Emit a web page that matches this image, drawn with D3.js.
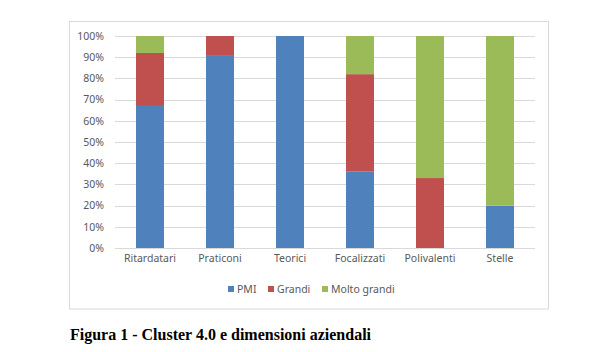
<!DOCTYPE html>
<html><head><meta charset="utf-8">
<script src="https://cdn.jsdelivr.net/npm/d3@7"></script>
<style>body{margin:0;background:#fff}svg{display:block}</style>
</head><body>
<script>
const categories = ["Ritardatari","Praticoni","Teorici","Focalizzati","Polivalenti","Stelle"];
const seriesNames = ["PMI","Grandi","Molto grandi"];
const pmi = [67, 91, 100, 36, 0, 20];
const grandi = [25, 9, 0, 46, 33, 0];
const moltoGrandi = [8, 0, 0, 18, 67, 80];
const yTicks = [0,10,20,30,40,50,60,70,80,90,100];
const colors = ["#4f81bd","#c0504d","#9bbb59"];
const caption = "Figura 1 - Cluster 4.0 e dimensioni aziendali";

const W = 608, H = 352;
const svg = d3.select("body").append("svg").attr("width", W).attr("height", H);
const font = "'Noto Sans', 'Open Sans', sans-serif";

// chart frame
svg.append("rect").attr("x", 69.5).attr("y", 21.5).attr("width", 479).attr("height", 287.5)
  .attr("fill", "#fff").attr("stroke", "#d9d9d9").attr("stroke-width", 1);

const x = d3.scaleBand().domain(categories).range([115, 535]).paddingInner(0.6).paddingOuter(0.3);
const y = d3.scaleLinear().domain([0, 100]).range([248, 36]);

// gridlines
svg.append("g").selectAll("line").data(yTicks).join("line")
  .attr("x1", 115).attr("x2", 535)
  .attr("y1", d => Math.round(y(d)) + 0.5).attr("y2", d => Math.round(y(d)) + 0.5)
  .attr("stroke", "#d9d9d9").attr("stroke-width", 1);

// y axis labels
const yAxis = d3.axisLeft(y).tickValues(yTicks).tickFormat(d => d + "%").tickSize(0).tickPadding(0);
const gy = svg.append("g").attr("transform", "translate(104,0)").call(yAxis);
gy.select(".domain").remove();
gy.selectAll("text").attr("font-family", font).attr("font-size", "10.5px").attr("fill", "#595959");

// stacked data
const rows = categories.map((c, i) => ({cat: c, "PMI": pmi[i], "Grandi": grandi[i], "Molto grandi": moltoGrandi[i]}));
const stack = d3.stack().keys(seriesNames)(rows);
svg.append("g").selectAll("g").data(stack).join("g")
  .attr("fill", (d, i) => colors[i])
  .selectAll("rect").data(d => d).join("rect")
  .attr("x", d => x(d.data.cat))
  .attr("width", x.bandwidth())
  .attr("y", d => y(d[1]))
  .attr("height", d => y(d[0]) - y(d[1]));

// x axis labels
const xAxis = d3.axisBottom(x).tickSize(0).tickPadding(0);
const gx = svg.append("g").attr("transform", "translate(0,255)").call(xAxis);
gx.select(".domain").remove();
gx.selectAll("text").attr("font-family", font).attr("font-size", "10.5px").attr("fill", "#595959");

// legend
const legendItems = [{n: "PMI", x: 228}, {n: "Grandi", x: 268}, {n: "Molto grandi", x: 322}];
const lg = svg.append("g");
legendItems.forEach((it, i) => {
  lg.append("rect").attr("x", it.x).attr("y", 286).attr("width", 6).attr("height", 6).attr("fill", colors[i]);
  lg.append("text").attr("x", it.x + 9).attr("y", 293).attr("font-family", font).attr("font-size", "10.5px")
    .attr("fill", "#595959").text(seriesNames[i]);
});

// caption
svg.append("text").attr("x", 70).attr("y", 340).attr("font-family", "'Liberation Serif', 'Times New Roman', serif")
  .attr("font-size", "16px").attr("font-weight", "bold").attr("fill", "#000").text(caption);
</script>
</body></html>
